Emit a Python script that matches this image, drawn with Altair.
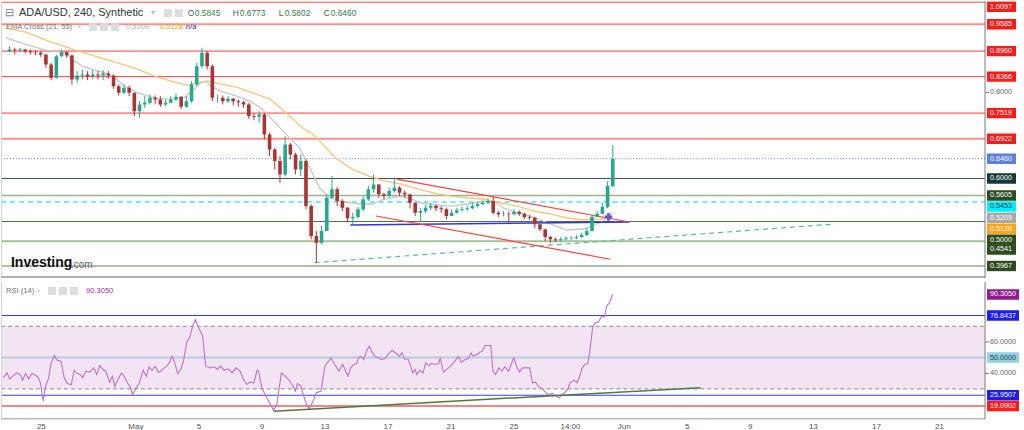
import altair as alt
import pandas as pd

BASE = pd.Timestamp("2022-04-22 00:00")

# ---------------- ADA/USD 8-hour candles ----------------
candle_first = "2022-04-22 16:00"
first_open = 0.8950
close = [0.8996, 0.8981, 0.8996, 0.8958, 0.8935, 0.8919, 0.8880, 0.8648, 0.8339, 0.8842,
         0.8935, 0.8857, 0.8300, 0.8393, 0.8416, 0.8377, 0.8416, 0.8393, 0.8439, 0.8393,
         0.8145, 0.7991, 0.8107, 0.7991, 0.7565, 0.7720, 0.7758, 0.7874, 0.7836, 0.7720,
         0.7758, 0.7836, 0.7898, 0.7666, 0.7797, 0.8184, 0.8610, 0.8919, 0.8610, 0.7874,
         0.7874, 0.7797, 0.7851, 0.7797, 0.7774, 0.7720, 0.7449, 0.7433, 0.7488, 0.7023,
         0.6675, 0.6404, 0.6095, 0.6791, 0.6559, 0.6211, 0.6404, 0.5360, 0.4662, 0.4508,
         0.4780, 0.5554, 0.5747, 0.5476, 0.5321, 0.5074, 0.5105, 0.5283, 0.5515, 0.5747,
         0.5863, 0.5631, 0.5592, 0.5708, 0.5786, 0.5670, 0.5631, 0.5437, 0.5205, 0.5244,
         0.5321, 0.5360, 0.5306, 0.5283, 0.5128, 0.5205, 0.5259, 0.5283, 0.5306, 0.5360,
         0.5399, 0.5437, 0.5476, 0.5205, 0.5167, 0.5182, 0.5167, 0.5229, 0.5182, 0.5105,
         0.5089, 0.4934, 0.4818, 0.4640, 0.4586, 0.4563, 0.4586, 0.4610, 0.4625, 0.4640,
         0.4687, 0.4780, 0.5105, 0.5182, 0.5337, 0.5824, 0.6460]
high = [0.9074, 0.9035, 0.9035, 0.9012, 0.8996, 0.8981, 0.8958, 0.8880, 0.8687, 0.8880,
        0.8996, 0.8958, 0.8880, 0.8494, 0.8532, 0.8494, 0.8517, 0.8494, 0.8517, 0.8494,
        0.8416, 0.8184, 0.8184, 0.8161, 0.7991, 0.7797, 0.7913, 0.7952, 0.7929, 0.7913,
        0.7836, 0.7913, 0.7975, 0.7913, 0.7913, 0.8261, 0.8687, 0.9035, 0.8958, 0.8648,
        0.7952, 0.7929, 0.7913, 0.7874, 0.7836, 0.7797, 0.7758, 0.7511, 0.7565, 0.7526,
        0.7062, 0.6714, 0.6520, 0.6985, 0.6830, 0.6598, 0.6559, 0.6443, 0.5398, 0.4779,
        0.4896, 0.5631, 0.6056, 0.5800, 0.5515, 0.5337, 0.5205, 0.5337, 0.5592, 0.5824,
        0.6095, 0.5863, 0.5670, 0.5786, 0.5979, 0.5824, 0.5724, 0.5631, 0.5437, 0.5306,
        0.5383, 0.5437, 0.5399, 0.5360, 0.5321, 0.5283, 0.5321, 0.5352, 0.5360, 0.5437,
        0.5461, 0.5492, 0.5538, 0.5569, 0.5244, 0.5244, 0.5229, 0.5283, 0.5259, 0.5200,
        0.5151, 0.5105, 0.4934, 0.4818, 0.4664, 0.4625, 0.4640, 0.4656, 0.4664, 0.4687,
        0.4741, 0.4842, 0.5151, 0.5244, 0.5437, 0.5940, 0.6773]
low = [0.8935, 0.8880, 0.8935, 0.8904, 0.8880, 0.8865, 0.8826, 0.8571, 0.8285, 0.8316,
       0.8826, 0.8803, 0.8184, 0.8223, 0.8300, 0.8285, 0.8316, 0.8300, 0.8285, 0.8316,
       0.8083, 0.7929, 0.7952, 0.7913, 0.7449, 0.7410, 0.7642, 0.7720, 0.7720, 0.7666,
       0.7681, 0.7758, 0.7797, 0.7619, 0.7642, 0.7758, 0.8145, 0.8571, 0.8532, 0.7797,
       0.7758, 0.7720, 0.7758, 0.7697, 0.7666, 0.7642, 0.7387, 0.7356, 0.7294, 0.6907,
       0.6520, 0.6211, 0.5901, 0.6056, 0.6443, 0.6095, 0.6056, 0.5282, 0.4586, 0.4044,
       0.4470, 0.4780, 0.5520, 0.5360, 0.5244, 0.4996, 0.4896, 0.5074, 0.5244, 0.5476,
       0.5670, 0.5554, 0.5515, 0.5554, 0.5670, 0.5592, 0.5554, 0.5306, 0.5128, 0.5012,
       0.5182, 0.5259, 0.5244, 0.5205, 0.5051, 0.5128, 0.5182, 0.5229, 0.5244, 0.5283,
       0.5321, 0.5383, 0.5399, 0.5167, 0.5105, 0.5120, 0.4973, 0.5151, 0.5128, 0.5058,
       0.5043, 0.4842, 0.4780, 0.4548, 0.4509, 0.4524, 0.4532, 0.4563, 0.4579, 0.4586,
       0.4625, 0.4660, 0.4764, 0.5105, 0.5167, 0.5306, 0.5802]

# ---------------- EMA Cross (21, 55), days after 22 Apr 2022 ----------------
ema21_day = [0.44, 1.71, 2.79, 3.42, 4.25, 4.69, 5.32, 5.96, 6.78, 7.42, 8.05, 8.87, 9.95,
             11.03, 11.85, 12.49, 12.93, 13.25, 13.57, 14.20, 15.22, 16.10, 16.74, 17.12,
             18.20, 19.27, 19.91, 20.54, 21.18, 22.00, 23.08, 23.90, 24.73, 25.62, 26.44,
             27.07, 27.90, 28.98, 30.05, 31.07, 31.70, 32.34, 33.22, 34.24, 35.32, 36.39,
             37.41, 38.04, 38.68, 39.31]
ema21_val = [0.9267, 0.9114, 0.8998, 0.8958, 0.8919, 0.8766, 0.8610, 0.8534, 0.8455, 0.8339,
             0.8146, 0.7990, 0.7874, 0.7837, 0.7874, 0.8069, 0.8222, 0.8262, 0.8146, 0.8030,
             0.7914, 0.7798, 0.7642, 0.7519, 0.7101, 0.6707, 0.6242, 0.5778, 0.5546, 0.5476,
             0.5407, 0.5407, 0.5523, 0.5592, 0.5523, 0.5430, 0.5384, 0.5360, 0.5407, 0.5476,
             0.5453, 0.5314, 0.5198, 0.5105, 0.4943, 0.4803, 0.4826, 0.4896, 0.5012, 0.5209]
ema55_day = [0.44, 1.71, 3.17, 4.69, 5.70, 6.78, 7.86, 8.87, 9.95, 11.03, 12.04, 12.93, 13.31,
             13.95, 15.21, 16.48, 17.37, 18.39, 19.46, 20.10, 20.73, 21.56, 22.63, 23.71,
             24.73, 25.80, 26.88, 27.90, 28.98, 30.05, 31.07, 32.15, 33.22, 34.24, 35.32,
             36.39, 37.41, 38.49, 39.31]
ema55_val = [0.9492, 0.9399, 0.9190, 0.9005, 0.8889, 0.8773, 0.8656, 0.8540, 0.8378, 0.8262,
             0.8169, 0.8239, 0.8262, 0.8215, 0.8123, 0.7960, 0.7844, 0.7519, 0.7171, 0.7032,
             0.6799, 0.6474, 0.6219, 0.6057, 0.5941, 0.5871, 0.5755, 0.5662, 0.5592, 0.5546,
             0.5523, 0.5430, 0.5360, 0.5244, 0.5175, 0.5082, 0.5035, 0.5059, 0.5128]

# ---------------- RSI (14), days after 22 Apr 2022 ----------------
rsi_day = [0.57, 0.82, 0.99, 1.44, 1.64, 1.82, 1.99, 2.20, 2.40, 2.65,
           2.82, 2.95, 3.12, 3.27, 3.45, 3.62, 3.83, 4.00, 4.25, 4.45,
           4.65, 4.90, 5.08, 5.20, 5.46, 5.63, 5.83, 6.08, 6.33, 6.51,
           6.71, 6.91, 7.08, 7.34, 7.51, 7.66, 7.84, 8.09, 8.26, 8.46,
           8.66, 8.79, 8.97, 9.22, 9.47, 9.67, 9.84, 10.02, 10.22, 10.42,
           10.60, 10.80, 10.97, 11.17, 11.30, 11.47, 11.65, 11.85, 12.02, 12.23,
           12.43, 12.60, 12.78, 12.98, 13.23, 13.43, 13.73, 13.98, 14.18, 14.36,
           14.61, 14.86, 15.11, 15.36, 15.61, 15.86, 16.04, 16.24, 16.49, 16.69,
           16.79, 16.99, 17.24, 17.49, 17.74, 17.94, 18.24, 18.44, 18.69, 18.95,
           19.12, 19.25, 19.45, 19.62, 19.80, 20.00, 20.25, 20.45, 20.75, 21.00,
           21.38, 21.63, 21.88, 22.13, 22.46, 22.63, 22.83, 23.01, 23.13, 23.26,
           23.46, 23.63, 23.81, 23.96, 24.16, 24.39, 24.56, 24.81, 25.01, 25.26,
           25.52, 25.72, 25.89, 26.07, 26.27, 26.44, 26.57, 26.72, 26.84, 27.02,
           27.22, 27.40, 27.57, 27.77, 27.97, 28.22, 28.32, 28.52, 28.77, 28.98,
           29.15, 29.33, 29.48, 29.65, 29.90, 30.08, 30.28, 30.40, 30.66, 30.83,
           30.98, 31.16, 31.33, 31.53, 31.66, 31.83, 32.04, 32.24, 32.41, 32.66,
           32.79, 32.99, 33.16, 33.34, 33.54, 33.99, 34.17, 34.37, 34.54, 34.79,
           34.99, 35.17, 35.42, 35.67, 35.87, 36.05, 36.25, 36.42, 36.55, 36.80,
           37.00, 37.17, 37.30, 37.50, 37.68, 37.80, 38.00, 38.18, 38.35, 38.55,
           38.75, 38.88, 39.06, 39.26]
rsi_val = [37.1, 40.2, 36.4, 40.2, 39.2, 35.6, 39.8, 36.4, 39.8, 38.5,
           37.1, 33.4, 22.2, 31.7, 36.4, 46.6, 51.3, 48.3, 47.7, 37.1,
           33.4, 32.6, 41.9, 40.2, 39.2, 37.1, 41.3, 40.7, 43.4, 39.2,
           44.9, 42.4, 41.3, 34.3, 38.1, 31.7, 35.6, 40.2, 38.1, 33.9,
           30.7, 26.4, 29.6, 33.9, 41.9, 38.1, 44.1, 41.9, 44.5, 40.7,
           41.3, 43.4, 44.5, 47.7, 50.9, 46.6, 39.8, 42.4, 47.7, 59.8,
           63.2, 70.0, 74.3, 69.0, 64.1, 44.5, 43.4, 44.1, 42.4, 44.5,
           41.9, 42.8, 40.2, 43.4, 41.3, 35.6, 32.8, 34.3, 33.9, 41.9,
           41.3, 30.7, 25.4, 21.1, 16.2, 20.0, 40.2, 38.5, 36.0, 32.2,
           28.5, 33.4, 32.2, 26.4, 21.1, 17.3, 22.2, 27.5, 28.6, 44.5,
           49.8, 45.6, 41.3, 45.6, 38.1, 43.4, 45.6, 46.2, 49.8, 50.9,
           48.8, 54.1, 57.3, 54.1, 50.9, 49.8, 48.8, 49.2, 52.0, 54.7,
           52.6, 50.9, 53.0, 48.8, 49.2, 44.5, 40.2, 42.4, 39.2, 41.9,
           40.2, 46.6, 44.9, 46.2, 45.6, 46.2, 49.8, 40.7, 42.8, 44.5,
           46.6, 48.8, 50.5, 47.1, 48.8, 49.2, 53.0, 50.9, 52.0, 53.4,
           54.1, 57.7, 57.7, 57.7, 41.3, 39.2, 43.4, 41.3, 44.1, 41.3,
           44.9, 49.8, 44.5, 40.7, 43.4, 43.4, 33.9, 34.3, 31.7, 30.0,
           27.9, 26.2, 27.1, 25.4, 24.3, 26.4, 27.9, 30.0, 33.9, 35.6,
           33.9, 38.1, 42.8, 45.6, 46.2, 53.0, 70.0, 72.2, 72.6, 76.0,
           76.4, 82.8, 84.9, 90.3]

# ---------------- drawn levels / tags ----------------
price_levels = [1.0097, 0.9585, 0.8960, 0.8366, 0.7519, 0.6922, 0.6460, 0.6000,
                0.5605, 0.5453, 0.5000, 0.4541, 0.3967]
price_tags = ["1.0097", "0.9585", "0.8960", "0.8366", "0.7519", "0.6922", "0.6460", "0.6000",
              "0.5605", "0.5453", "0.5209", "0.5128", "0.5000", "0.4541", "0.3967"]
price_tag_at = [0.9990, 0.9585, 0.8960, 0.8366, 0.7519, 0.6922, 0.6460, 0.6000,
                0.5605, 0.5349, 0.5089, 0.4833, 0.4578, 0.4350, 0.3967]
# axis tick label that stays readable beside the tags
price_ticks = [0.80]

rsi_levels = [76.8437, 50.0, 25.9507, 19.0902]
rsi_band = [30, 70]
rsi_tags = ["90.3050", "76.8437", "50.0000", "25.9507", "19.0902"]
rsi_tag_at = [90.3050, 76.8437, 50.0, 25.9507, 19.0902]
rsi_ticks = [40, 60]

# trend lines: (start day, start value, end day, end value)
trend_upper = (25.49, 0.5987, 40.39, 0.4989)
trend_lower = (24.16, 0.5128, 39.18, 0.4123)
trend_support = (22.51, 0.4919, 40.39, 0.4990)
trend_rising = (20.22, 0.4044, 53.58, 0.4943)
rsi_trend = (17.75, 15.8, 44.83, 30.8)
cross_mark = (39.06, 0.5105)

xlab_time = ["2022-04-25 00:00", "2022-05-01 00:00", "2022-05-05 00:00", "2022-05-09 00:00",
             "2022-05-13 00:00", "2022-05-17 00:00", "2022-05-21 00:00", "2022-05-25 00:00",
             "2022-05-28 14:00", "2022-06-01 00:00", "2022-06-05 00:00", "2022-06-09 00:00",
             "2022-06-13 00:00", "2022-06-17 00:00", "2022-06-21 00:00"]
xlab_text = ["25", "May", "5", "9", "13", "17", "21", "25", "14:00", "Jun", "5", "9", "13", "17", "21"]

x_days = [0.44, 65.37]
price_domain = [0.3689, 1.0119]
rsi_domain = [10.9, 98.29]

# ---------------- styles ----------------
FONT = "Liberation Sans"
UP, DOWN = "#26a88c", "#a83434"
level_color = ["#ff3a3a", "#ff8f8f", "#ff3a3a", "#ff3a3a", "#ff3a3a", "#ff8f8f", "#5b7fe0",
               "#2f4f4f", "#9fb28f", "#40e8f0", "#4f6f3a", "#a9bf99", "#5f7f4f"]
level_width = [1, 2, 1, 1, 1, 2, 1, 1, 1.5, 1.5, 1, 2, 1]
level_dash = [None, None, None, None, None, None, [1, 2], None, None, [5, 4], None, None, None]
tag_bg = ["#ff1a1a"] * 6 + ["#5b7fe0", "#173838", "#2e4a1f", "#00f0ff", "#a8a8a8", "#ffa31a",
                            "#2e4a1f", "#2e4a1f", "#2e4a1f"]
tag_fg = ["white"] * 9 + ["#0b2a44"] + ["white"] * 5
rsi_level_color = ["#3a3aff", "#b8cce0", "#3a3aff", "#ff8080"]
rsi_level_width = [1.2, 2, 1.2, 2]
rsi_tag_bg = ["#8e1b8e", "#1a1aff", "#8fd3e3", "#1a1aff", "#ff1a1a"]
rsi_tag_fg = ["white", "white", "#333333", "white", "white"]
TAG_FS = 7.2

W, H1, H2, AX = 1024, 277, 137, 985


def at_days(days):
    return [BASE + pd.Timedelta(days=float(d)) for d in days]


def dt(ts):
    return alt.DateTime(year=ts.year, month=ts.month, date=ts.day, hours=ts.hour, minutes=ts.minute)


xs = alt.Scale(domain=[dt(t) for t in at_days(x_days)])
ps = alt.Scale(domain=price_domain, nice=False, zero=False)
rs = alt.Scale(domain=rsi_domain, nice=False, zero=False)
dummy = pd.DataFrame({"d": [0]})


def X(f="t"):
    return alt.X(f"{f}:T", scale=xs, axis=None)


def PY(f="v"):
    return alt.Y(f"{f}:Q", scale=ps, axis=None)


def RY(f="v"):
    return alt.Y(f"{f}:Q", scale=rs, axis=None)


def label(txt, x, y, size, color, weight="normal", align="left"):
    return alt.Chart(dummy).mark_text(font=FONT, fontSize=size, color=color, fontWeight=weight,
                                      align=align, baseline="middle").encode(
        x=alt.value(x), y=alt.value(y), text=alt.value(txt))


def box(x1, x2, y1, y2, color):
    return alt.Chart(dummy).mark_rect(color=color).encode(
        x=alt.value(x1), x2=alt.value(x2), y=alt.value(y1), y2=alt.value(y2))


def seg(trend):
    d0, v0, d1, v1 = trend
    return pd.DataFrame({"t": at_days([d0, d1]), "v": [v0, v1]})


# ---------------- price panel ----------------
opens = [first_open] + close[:-1]
cdf = pd.DataFrame({"t": pd.date_range(candle_first, periods=len(close), freq="8h"),
                    "open": opens, "high": high, "low": low, "close": close})
updown = alt.condition("datum.close >= datum.open", alt.value(UP), alt.value(DOWN))

p_layers = []
for v, col, w, dash in zip(price_levels, level_color, level_width, level_dash):
    kw = dict(color=col, strokeWidth=w, clip=True)
    if dash:
        kw["strokeDash"] = dash
    p_layers.append(alt.Chart(pd.DataFrame({"v": [v]})).mark_rule(**kw).encode(
        y=PY(), x=alt.value(0), x2=alt.value(AX)))

p_layers.append(alt.Chart(pd.DataFrame({"t": at_days(ema55_day), "v": ema55_val})).mark_line(
    color="#ffc27a", strokeWidth=1.3, clip=True).encode(x=X(), y=PY()))
p_layers.append(alt.Chart(pd.DataFrame({"t": at_days(ema21_day), "v": ema21_val})).mark_line(
    color="#c8c8c8", strokeWidth=1.3, clip=True).encode(x=X(), y=PY()))

p_layers.append(alt.Chart(seg(trend_rising)).mark_line(
    color="#5fb8a0", strokeWidth=1.2, strokeDash=[5, 4], clip=True).encode(x=X(), y=PY()))
p_layers.append(alt.Chart(seg(trend_support)).mark_line(
    color="#3333dd", strokeWidth=1.5, clip=True).encode(x=X(), y=PY()))
p_layers.append(alt.Chart(seg(trend_upper)).mark_line(
    color="#ff4040", strokeWidth=1.2, clip=True).encode(x=X(), y=PY()))
p_layers.append(alt.Chart(seg(trend_lower)).mark_line(
    color="#ff4040", strokeWidth=1.2, clip=True).encode(x=X(), y=PY()))

p_layers.append(alt.Chart(cdf).mark_rule(strokeWidth=1, clip=True).encode(
    x=X(), y=PY("low"), y2="high:Q", color=updown))
p_layers.append(alt.Chart(cdf).mark_bar(size=3.6, clip=True).encode(
    x=X(), y=PY("open"), y2="close:Q", color=updown))

p_layers.append(alt.Chart(pd.DataFrame({"t": at_days([cross_mark[0]]), "v": [cross_mark[1]]}))
                .mark_point(shape="cross", filled=True, size=55, color="#6a55d0", opacity=1, clip=True)
                .encode(x=X(), y=PY()))

# frame / axis
p_layers.append(alt.Chart(dummy).mark_rule(color="#d4d4d4").encode(
    x=alt.value(0.5), y=alt.value(0), y2=alt.value(H1)))
p_layers.append(alt.Chart(dummy).mark_rule(color="#b0b0b0", strokeWidth=2).encode(
    x=alt.value(0), x2=alt.value(AX), y=alt.value(H1 - 1)))
p_layers.append(alt.Chart(dummy).mark_rule(color="#777777").encode(
    x=alt.value(AX), y=alt.value(0), y2=alt.value(H1)))
ptick = pd.DataFrame({"v": price_ticks, "lab": [f"{v:.4f}" for v in price_ticks]})
p_layers.append(alt.Chart(ptick).mark_rule(color="#777777", clip=True).encode(
    x=alt.value(AX), x2=alt.value(AX + 4), y=PY()))
p_layers.append(alt.Chart(ptick).mark_text(font=FONT, fontSize=TAG_FS, color="#666666", align="left",
                                           baseline="middle", clip=True).encode(
    x=alt.value(AX + 5), y=PY(), text="lab:N"))
ptag = pd.DataFrame({"at": price_tag_at, "txt": price_tags, "bg": tag_bg, "fg": tag_fg})
p_layers.append(alt.Chart(ptag).mark_rect(yOffset=-5.2, y2Offset=5.2, clip=True).encode(
    x=alt.value(AX + 2), x2=alt.value(AX + 31), y=PY("at"), y2="at:Q",
    color=alt.Color("bg:N", scale=None)))
p_layers.append(alt.Chart(ptag).mark_text(font=FONT, fontSize=TAG_FS, align="left", baseline="middle",
                                          clip=True).encode(
    x=alt.value(AX + 5), y=PY("at"), text="txt:N", color=alt.Color("fg:N", scale=None)))

# header texts
p_layers += [
    label("⊟", 4, 12, 11, "#888888"),
    label("ADA/USD, 240, Synthetic", 18, 12, 11, "#333333"),
    label("▾", 150, 12, 8, "#bbbbbb"),
    box(163, 171, 8, 16, "#dddddd"), box(174, 182, 8, 16, "#dddddd"),
    label("O", 187, 12, 8.4, "#555555"), label("0.5845", 194, 12, 8.4, "#3d7a4d"),
    label("H", 232, 12, 8.4, "#555555"), label("0.6773", 239, 12, 8.4, "#3d7a4d"),
    label("L", 278, 12, 8.4, "#555555"), label("0.5802", 284, 12, 8.4, "#3d7a4d"),
    label("C", 323, 12, 8.4, "#555555"), label("0.6460", 330, 12, 8.4, "#3d7a4d"),
    label("EMA Cross (21, 55)", 5, 26, 7.6, "#777777"),
    label("▾", 77, 26, 6, "#cccccc"),
    box(88, 96, 22, 30, "#dddddd"), box(99, 107, 22, 30, "#dddddd"), box(110, 118, 22, 30, "#dddddd"),
    label("0.5209", 125, 26, 7.6, "#b0b0b0"),
    label("0.5128", 159, 26, 7.6, "#f5a020"),
    label("n/a", 185, 26, 7.6, "#3030a0"),
    label("Investing", 10, 262, 14, "#111111", weight="bold"),
    label(".com", 70, 264, 10, "#666666"),
]

price = alt.layer(*p_layers).properties(width=W, height=H1)

# ---------------- RSI panel ----------------
r_layers = []
r_layers.append(alt.Chart(pd.DataFrame({"lo": [rsi_band[0]], "hi": [rsi_band[1]]})).mark_rect(
    color="#f2e4f2").encode(x=alt.value(0), x2=alt.value(AX), y=RY("hi"), y2="lo:Q"))
r_layers.append(alt.Chart(pd.DataFrame({"v": rsi_band})).mark_rule(
    color="#8a8a8a", strokeDash=[4, 3]).encode(x=alt.value(0), x2=alt.value(AX), y=RY()))
for v, col, w in zip(rsi_levels, rsi_level_color, rsi_level_width):
    r_layers.append(alt.Chart(pd.DataFrame({"v": [v]})).mark_rule(color=col, strokeWidth=w).encode(
        x=alt.value(0), x2=alt.value(AX), y=RY()))
r_layers.append(alt.Chart(pd.DataFrame({"t": at_days(rsi_day), "v": rsi_val})).mark_line(
    color="#bf72c4", strokeWidth=1.1, clip=True).encode(x=X(), y=RY()))
r_layers.append(alt.Chart(seg(rsi_trend)).mark_line(
    color="#4f7a3e", strokeWidth=1.5, clip=True).encode(x=X(), y=RY()))

r_layers.append(alt.Chart(dummy).mark_rule(color="#d4d4d4").encode(
    x=alt.value(0.5), y=alt.value(0), y2=alt.value(H2)))
r_layers.append(alt.Chart(dummy).mark_rule(color="#999999").encode(
    x=alt.value(0), x2=alt.value(AX), y=alt.value(H2)))
r_layers.append(alt.Chart(dummy).mark_rule(color="#777777").encode(
    x=alt.value(AX), y=alt.value(0), y2=alt.value(H2)))
rtick = pd.DataFrame({"v": rsi_ticks, "lab": [f"{v:.4f}" for v in rsi_ticks]})
r_layers.append(alt.Chart(rtick).mark_rule(color="#777777").encode(
    x=alt.value(AX), x2=alt.value(AX + 4), y=RY()))
r_layers.append(alt.Chart(rtick).mark_text(font=FONT, fontSize=TAG_FS, color="#666666", align="left",
                                           baseline="middle").encode(
    x=alt.value(AX + 5), y=RY(), text="lab:N"))
rtag = pd.DataFrame({"at": rsi_tag_at, "txt": rsi_tags, "bg": rsi_tag_bg, "fg": rsi_tag_fg})
r_layers.append(alt.Chart(rtag).mark_rect(yOffset=-5.2, y2Offset=5.2, clip=True).encode(
    x=alt.value(AX + 2), x2=alt.value(AX + 34), y=RY("at"), y2="at:Q",
    color=alt.Color("bg:N", scale=None)))
r_layers.append(alt.Chart(rtag).mark_text(font=FONT, fontSize=TAG_FS, align="left", baseline="middle",
                                          clip=True).encode(
    x=alt.value(AX + 5), y=RY("at"), text="txt:N", color=alt.Color("fg:N", scale=None)))

xlab = pd.DataFrame({"t": pd.to_datetime(xlab_time), "lab": xlab_text})
r_layers.append(alt.Chart(xlab).mark_text(font=FONT, fontSize=8, color="#555555", align="center",
                                          baseline="middle").encode(
    x=X(), y=alt.value(H2 + 8), text="lab:N"))

r_layers += [
    label("RSI (14)", 5, 9, 7.6, "#777777"),
    label("▾", 36, 9, 6, "#cccccc"),
    box(47, 55, 5, 13, "#dddddd"), box(58, 66, 5, 13, "#dddddd"), box(69, 77, 5, 13, "#dddddd"),
    label("90.3050", 85, 9, 7.6, "#a0309f"),
]

rsi = alt.layer(*r_layers).properties(width=W, height=H2)

chart = alt.vconcat(price, rsi, spacing=2).properties(padding=0, background="white").configure(
    font=FONT, view=alt.ViewConfig(strokeWidth=0))

chart.save("out.html", embed_options={"renderer": "svg", "actions": False})
